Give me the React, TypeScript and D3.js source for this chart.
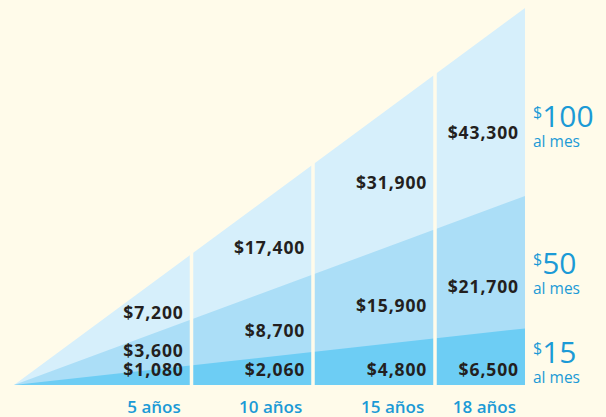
import React from "react";
import * as d3 from "d3";

const years = [0, 5, 10, 15, 18];
const yearLabels = ["", "5 años", "10 años", "15 años", "18 años"];
const monthly = ["$15", "$50", "$100"];
const series15 = [0, 1080, 2060, 4800, 6500];
const series50 = [0, 3600, 8700, 15900, 21700];
const series100 = [0, 7200, 17400, 31900, 43300];

const W = 606;
const H = 417;
const BG = "#fffbea";
const bandColors = ["#6dcdf4", "#abdef7", "#d6effb"];
const BLUE = "#1b9ad6";
const DARK = "#231f20";

const fmt = (v: number) => "$" + d3.format(",")(v);

export default function App() {
  const x = d3.scaleLinear().domain(years).range([14, 191.5, 313, 435, 525]);
  const y = d3.scaleLinear().domain([0, 43300]).range([385, 8]);
  const base = y(0);
  const series = [series15, series50, series100];
  const lastIdx = years.length - 1;

  const area = d3
    .area<[number, number]>()
    .x((d) => x(d[0]))
    .y0(base)
    .y1((d) => y(d[1]));

  const bandTopAt = (s: number[], px: number) => {
    const t = (px - x(0)) / (x(18) - x(0));
    return base - t * (base - y(s[lastIdx]));
  };

  const colRight = (i: number) => (i === lastIdx ? x(years[i]) : x(years[i]) - 1.75);

  const labels: { x: number; y: number; text: string }[] = [];
  const fracs = [0.62, 0.55];
  years.forEach((yr, i) => {
    if (i === 0) return;
    const right = colRight(i) - 6;
    const cx = right - 35;
    let prevBaseline = base - 9;
    labels.push({ x: right, y: prevBaseline, text: fmt(series15[i]) });
    [series50, series100].forEach((s, k) => {
      const lower = [series15, series50][k];
      const top = bandTopAt(s, cx);
      const bottom = bandTopAt(lower, cx);
      let bl = top + fracs[k] * (bottom - top) + 6;
      bl = Math.min(bl, prevBaseline - 19);
      labels.push({ x: right, y: bl, text: fmt(s[i]) });
      prevBaseline = bl;
    });
  });

  // right-hand legend, placed under each band's top edge
  const legendOffsets = [35, 78, 119];

  return (
    <svg
      width={W}
      height={H}
      style={{ position: "absolute", left: 0, top: 0 }}
      fontFamily="'Open Sans', sans-serif"
    >
      <rect x={0} y={0} width={W} height={H} fill={BG} />
      {[2, 1, 0].map((k) => (
        <path
          key={k}
          d={area([
            [years[0], series[k][0]],
            [years[lastIdx], series[k][lastIdx]],
          ])!}
          fill={bandColors[k]}
        />
      ))}
      {years.slice(1, lastIdx).map((yr) => (
        <rect key={yr} x={x(yr) - 1.75} y={0} width={3.5} height={base + 2} fill={BG} />
      ))}
      {labels.map((l, i) => (
        <text
          key={i}
          x={l.x}
          y={l.y}
          textAnchor="end"
          fontSize={17.5}
          fontWeight={700}
          letterSpacing={0.9}
          fill={DARK}
        >
          {l.text}
        </text>
      ))}
      {years.slice(1).map((yr, i) => (
        <text
          key={yr}
          x={colRight(i + 1) - 9}
          y={412.5}
          textAnchor="end"
          fontSize={17}
          fontWeight={600}
          fill={BLUE}
        >
          {yearLabels[i + 1]}
        </text>
      ))}
      {monthly.map((m, k) => {
        const bl = y(series[k][lastIdx]) + legendOffsets[k];
        return (
          <g key={m} fill={BLUE}>
            <text x={533} y={bl}>
              <tspan fontSize={16} dy={-9}>
                $
              </tspan>
              <tspan fontSize={30} dy={9}>
                {m.slice(1)}
              </tspan>
            </text>
            <text x={533} y={bl + 20} fontSize={15.5}>
              al mes
            </text>
          </g>
        );
      })}
    </svg>
  );
}
